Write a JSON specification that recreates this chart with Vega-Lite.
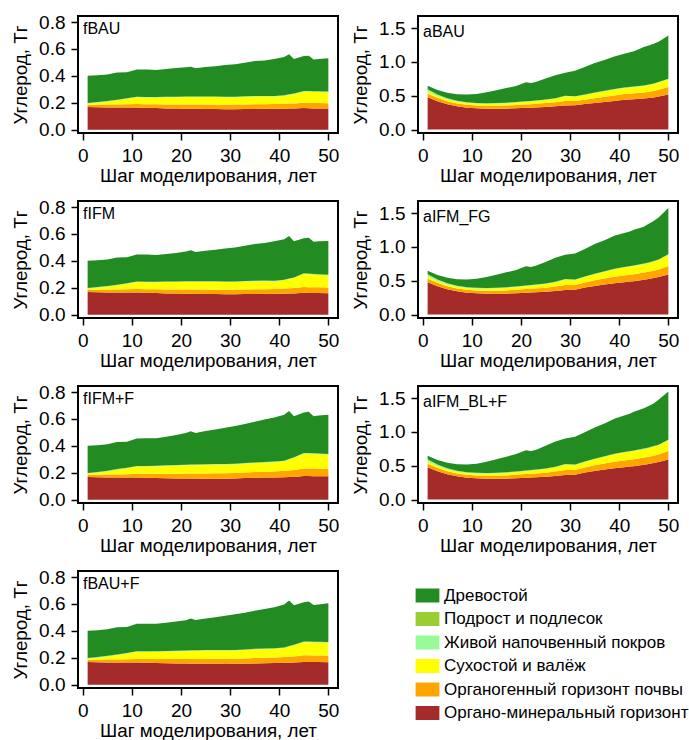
{
"$schema": "https://vega.github.io/schema/vega-lite/v6.json",
"background": "white",
"padding": {"left": 10, "top": 12, "right": 5, "bottom": 5},
"config": {
  "font": "Liberation Sans",
  "view": {"stroke": "black", "strokeWidth": 2},
  "axis": {"domain": false, "grid": false, "tickColor": "black", "tickWidth": 1.5, "tickSize": 7, "labelFontSize": 19, "labelColor": "black", "labelPadding": 6, "labelFlush": false, "labelOverlap": false, "titleFontSize": 18.8, "titleFontWeight": "normal", "titleColor": "black"},
  "axisX": {"titlePadding": 1},
  "axisY": {"titlePadding": 8},
  "title": {"anchor": "start", "frame": "group", "orient": "top", "offset": -24, "dx": 5, "baseline": "top", "fontSize": 16, "fontWeight": "normal", "color": "black"},
  "legend": {"padding": 0}
},
"datasets": {
"layers": [
 {"k":"om","label":"Органо-минеральный горизонт","idx":1},
 {"k":"og","label":"Органогенный горизонт почвы","idx":2},
 {"k":"sv","label":"Сухостой и валёж","idx":3},
 {"k":"zh","label":"Живой напочвенный покров","idx":4},
 {"k":"pd","label":"Подрост и подлесок","idx":5},
 {"k":"dr","label":"Древостой","idx":6}
],
"d": [
{"p":"fBAU","s":1,"om":0.168,"og":0.017,"sv":0.008,"zh":0.003,"pd":0.002,"dr":0.202},
{"p":"fBAU","s":3,"om":0.166,"og":0.019,"sv":0.015,"zh":0.003,"pd":0.002,"dr":0.200},
{"p":"fBAU","s":5,"om":0.165,"og":0.021,"sv":0.022,"zh":0.003,"pd":0.002,"dr":0.197},
{"p":"fBAU","s":7,"om":0.164,"og":0.023,"sv":0.031,"zh":0.003,"pd":0.002,"dr":0.202},
{"p":"fBAU","s":9,"om":0.164,"og":0.024,"sv":0.040,"zh":0.003,"pd":0.002,"dr":0.194},
{"p":"fBAU","s":11,"om":0.164,"og":0.026,"sv":0.050,"zh":0.003,"pd":0.002,"dr":0.202},
{"p":"fBAU","s":13,"om":0.162,"og":0.027,"sv":0.049,"zh":0.003,"pd":0.002,"dr":0.204},
{"p":"fBAU","s":15,"om":0.160,"og":0.028,"sv":0.050,"zh":0.003,"pd":0.002,"dr":0.201},
{"p":"fBAU","s":17,"om":0.158,"og":0.029,"sv":0.053,"zh":0.003,"pd":0.002,"dr":0.205},
{"p":"fBAU","s":19,"om":0.157,"og":0.030,"sv":0.053,"zh":0.003,"pd":0.002,"dr":0.213},
{"p":"fBAU","s":21,"om":0.156,"og":0.031,"sv":0.055,"zh":0.003,"pd":0.002,"dr":0.216},
{"p":"fBAU","s":22,"om":0.155,"og":0.032,"sv":0.055,"zh":0.003,"pd":0.002,"dr":0.221},
{"p":"fBAU","s":23,"om":0.155,"og":0.031,"sv":0.055,"zh":0.003,"pd":0.002,"dr":0.211},
{"p":"fBAU","s":25,"om":0.154,"og":0.032,"sv":0.056,"zh":0.003,"pd":0.002,"dr":0.218},
{"p":"fBAU","s":27,"om":0.153,"og":0.032,"sv":0.057,"zh":0.003,"pd":0.002,"dr":0.225},
{"p":"fBAU","s":29,"om":0.152,"og":0.033,"sv":0.055,"zh":0.003,"pd":0.002,"dr":0.235},
{"p":"fBAU","s":31,"om":0.152,"og":0.034,"sv":0.054,"zh":0.003,"pd":0.002,"dr":0.242},
{"p":"fBAU","s":33,"om":0.153,"og":0.034,"sv":0.056,"zh":0.003,"pd":0.002,"dr":0.250},
{"p":"fBAU","s":35,"om":0.154,"og":0.034,"sv":0.057,"zh":0.003,"pd":0.002,"dr":0.260},
{"p":"fBAU","s":37,"om":0.155,"og":0.034,"sv":0.057,"zh":0.003,"pd":0.002,"dr":0.264},
{"p":"fBAU","s":39,"om":0.155,"og":0.035,"sv":0.055,"zh":0.003,"pd":0.002,"dr":0.275},
{"p":"fBAU","s":41,"om":0.156,"og":0.036,"sv":0.058,"zh":0.003,"pd":0.002,"dr":0.285},
{"p":"fBAU","s":42,"om":0.157,"og":0.037,"sv":0.064,"zh":0.003,"pd":0.002,"dr":0.297},
{"p":"fBAU","s":43,"om":0.157,"og":0.038,"sv":0.068,"zh":0.003,"pd":0.002,"dr":0.257},
{"p":"fBAU","s":45,"om":0.160,"og":0.040,"sv":0.082,"zh":0.003,"pd":0.002,"dr":0.261},
{"p":"fBAU","s":46,"om":0.159,"og":0.040,"sv":0.083,"zh":0.003,"pd":0.002,"dr":0.263},
{"p":"fBAU","s":47,"om":0.158,"og":0.040,"sv":0.082,"zh":0.003,"pd":0.002,"dr":0.237},
{"p":"fBAU","s":48,"om":0.158,"og":0.040,"sv":0.082,"zh":0.003,"pd":0.002,"dr":0.241},
{"p":"fBAU","s":50,"om":0.157,"og":0.040,"sv":0.081,"zh":0.003,"pd":0.002,"dr":0.247},

{"p":"fIFM","s":1,"om":0.168,"og":0.017,"sv":0.008,"zh":0.003,"pd":0.002,"dr":0.202},
{"p":"fIFM","s":3,"om":0.166,"og":0.019,"sv":0.015,"zh":0.003,"pd":0.002,"dr":0.200},
{"p":"fIFM","s":5,"om":0.165,"og":0.021,"sv":0.022,"zh":0.003,"pd":0.002,"dr":0.197},
{"p":"fIFM","s":7,"om":0.164,"og":0.023,"sv":0.031,"zh":0.003,"pd":0.002,"dr":0.202},
{"p":"fIFM","s":9,"om":0.164,"og":0.024,"sv":0.040,"zh":0.003,"pd":0.002,"dr":0.194},
{"p":"fIFM","s":11,"om":0.164,"og":0.026,"sv":0.052,"zh":0.003,"pd":0.002,"dr":0.200},
{"p":"fIFM","s":13,"om":0.162,"og":0.027,"sv":0.051,"zh":0.003,"pd":0.002,"dr":0.202},
{"p":"fIFM","s":15,"om":0.160,"og":0.028,"sv":0.052,"zh":0.003,"pd":0.002,"dr":0.199},
{"p":"fIFM","s":17,"om":0.158,"og":0.029,"sv":0.055,"zh":0.003,"pd":0.002,"dr":0.203},
{"p":"fIFM","s":19,"om":0.157,"og":0.030,"sv":0.055,"zh":0.003,"pd":0.002,"dr":0.211},
{"p":"fIFM","s":21,"om":0.156,"og":0.031,"sv":0.057,"zh":0.003,"pd":0.002,"dr":0.221},
{"p":"fIFM","s":22,"om":0.155,"og":0.032,"sv":0.057,"zh":0.003,"pd":0.002,"dr":0.229},
{"p":"fIFM","s":23,"om":0.155,"og":0.031,"sv":0.057,"zh":0.003,"pd":0.002,"dr":0.218},
{"p":"fIFM","s":25,"om":0.154,"og":0.032,"sv":0.058,"zh":0.003,"pd":0.002,"dr":0.226},
{"p":"fIFM","s":27,"om":0.153,"og":0.032,"sv":0.059,"zh":0.003,"pd":0.002,"dr":0.234},
{"p":"fIFM","s":29,"om":0.152,"og":0.033,"sv":0.057,"zh":0.003,"pd":0.002,"dr":0.245},
{"p":"fIFM","s":31,"om":0.152,"og":0.034,"sv":0.056,"zh":0.003,"pd":0.002,"dr":0.253},
{"p":"fIFM","s":33,"om":0.153,"og":0.034,"sv":0.058,"zh":0.003,"pd":0.002,"dr":0.262},
{"p":"fIFM","s":35,"om":0.154,"og":0.034,"sv":0.059,"zh":0.003,"pd":0.002,"dr":0.273},
{"p":"fIFM","s":37,"om":0.155,"og":0.034,"sv":0.059,"zh":0.003,"pd":0.002,"dr":0.280},
{"p":"fIFM","s":39,"om":0.155,"og":0.035,"sv":0.057,"zh":0.003,"pd":0.002,"dr":0.293},
{"p":"fIFM","s":41,"om":0.156,"og":0.038,"sv":0.061,"zh":0.003,"pd":0.002,"dr":0.300},
{"p":"fIFM","s":42,"om":0.157,"og":0.039,"sv":0.067,"zh":0.003,"pd":0.002,"dr":0.317},
{"p":"fIFM","s":43,"om":0.157,"og":0.041,"sv":0.074,"zh":0.003,"pd":0.002,"dr":0.268},
{"p":"fIFM","s":45,"om":0.162,"og":0.043,"sv":0.097,"zh":0.003,"pd":0.002,"dr":0.261},
{"p":"fIFM","s":46,"om":0.161,"og":0.043,"sv":0.096,"zh":0.003,"pd":0.002,"dr":0.267},
{"p":"fIFM","s":47,"om":0.160,"og":0.043,"sv":0.094,"zh":0.003,"pd":0.002,"dr":0.240},
{"p":"fIFM","s":48,"om":0.160,"og":0.043,"sv":0.092,"zh":0.003,"pd":0.002,"dr":0.245},
{"p":"fIFM","s":50,"om":0.159,"og":0.043,"sv":0.090,"zh":0.003,"pd":0.002,"dr":0.251},

{"p":"fIFM+F","s":1,"om":0.168,"og":0.017,"sv":0.008,"zh":0.003,"pd":0.002,"dr":0.202},
{"p":"fIFM+F","s":3,"om":0.166,"og":0.019,"sv":0.015,"zh":0.003,"pd":0.002,"dr":0.200},
{"p":"fIFM+F","s":5,"om":0.165,"og":0.021,"sv":0.024,"zh":0.003,"pd":0.002,"dr":0.197},
{"p":"fIFM+F","s":7,"om":0.164,"og":0.023,"sv":0.035,"zh":0.003,"pd":0.002,"dr":0.201},
{"p":"fIFM+F","s":9,"om":0.164,"og":0.025,"sv":0.043,"zh":0.003,"pd":0.002,"dr":0.193},
{"p":"fIFM+F","s":11,"om":0.164,"og":0.028,"sv":0.054,"zh":0.003,"pd":0.002,"dr":0.204},
{"p":"fIFM+F","s":13,"om":0.162,"og":0.030,"sv":0.054,"zh":0.003,"pd":0.002,"dr":0.206},
{"p":"fIFM+F","s":15,"om":0.160,"og":0.032,"sv":0.055,"zh":0.003,"pd":0.002,"dr":0.205},
{"p":"fIFM+F","s":17,"om":0.159,"og":0.033,"sv":0.058,"zh":0.003,"pd":0.002,"dr":0.212},
{"p":"fIFM+F","s":19,"om":0.158,"og":0.035,"sv":0.059,"zh":0.003,"pd":0.002,"dr":0.223},
{"p":"fIFM+F","s":21,"om":0.158,"og":0.036,"sv":0.061,"zh":0.003,"pd":0.002,"dr":0.235},
{"p":"fIFM+F","s":22,"om":0.157,"og":0.037,"sv":0.062,"zh":0.003,"pd":0.002,"dr":0.247},
{"p":"fIFM+F","s":23,"om":0.157,"og":0.037,"sv":0.062,"zh":0.003,"pd":0.002,"dr":0.235},
{"p":"fIFM+F","s":25,"om":0.156,"og":0.039,"sv":0.063,"zh":0.003,"pd":0.002,"dr":0.247},
{"p":"fIFM+F","s":27,"om":0.156,"og":0.040,"sv":0.064,"zh":0.003,"pd":0.002,"dr":0.257},
{"p":"fIFM+F","s":29,"om":0.156,"og":0.041,"sv":0.063,"zh":0.003,"pd":0.002,"dr":0.270},
{"p":"fIFM+F","s":31,"om":0.157,"og":0.042,"sv":0.063,"zh":0.003,"pd":0.002,"dr":0.281},
{"p":"fIFM+F","s":33,"om":0.160,"og":0.042,"sv":0.065,"zh":0.003,"pd":0.002,"dr":0.290},
{"p":"fIFM+F","s":35,"om":0.162,"og":0.043,"sv":0.067,"zh":0.003,"pd":0.002,"dr":0.303},
{"p":"fIFM+F","s":37,"om":0.164,"og":0.044,"sv":0.067,"zh":0.003,"pd":0.002,"dr":0.315},
{"p":"fIFM+F","s":39,"om":0.165,"og":0.045,"sv":0.068,"zh":0.003,"pd":0.002,"dr":0.327},
{"p":"fIFM+F","s":41,"om":0.167,"og":0.047,"sv":0.071,"zh":0.003,"pd":0.002,"dr":0.342},
{"p":"fIFM+F","s":42,"om":0.168,"og":0.049,"sv":0.081,"zh":0.003,"pd":0.002,"dr":0.357},
{"p":"fIFM+F","s":43,"om":0.169,"og":0.051,"sv":0.090,"zh":0.003,"pd":0.002,"dr":0.305},
{"p":"fIFM+F","s":45,"om":0.175,"og":0.057,"sv":0.110,"zh":0.003,"pd":0.002,"dr":0.301},
{"p":"fIFM+F","s":46,"om":0.175,"og":0.057,"sv":0.110,"zh":0.003,"pd":0.002,"dr":0.306},
{"p":"fIFM+F","s":47,"om":0.174,"og":0.057,"sv":0.109,"zh":0.003,"pd":0.002,"dr":0.275},
{"p":"fIFM+F","s":48,"om":0.174,"og":0.056,"sv":0.108,"zh":0.003,"pd":0.002,"dr":0.282},
{"p":"fIFM+F","s":50,"om":0.173,"og":0.055,"sv":0.107,"zh":0.003,"pd":0.002,"dr":0.292},

{"p":"fBAU+F","s":1,"om":0.168,"og":0.017,"sv":0.008,"zh":0.003,"pd":0.002,"dr":0.202},
{"p":"fBAU+F","s":3,"om":0.166,"og":0.019,"sv":0.015,"zh":0.003,"pd":0.002,"dr":0.200},
{"p":"fBAU+F","s":5,"om":0.165,"og":0.021,"sv":0.023,"zh":0.003,"pd":0.002,"dr":0.197},
{"p":"fBAU+F","s":7,"om":0.164,"og":0.023,"sv":0.033,"zh":0.003,"pd":0.002,"dr":0.202},
{"p":"fBAU+F","s":9,"om":0.164,"og":0.024,"sv":0.042,"zh":0.003,"pd":0.002,"dr":0.194},
{"p":"fBAU+F","s":11,"om":0.164,"og":0.027,"sv":0.053,"zh":0.003,"pd":0.002,"dr":0.203},
{"p":"fBAU+F","s":13,"om":0.162,"og":0.028,"sv":0.053,"zh":0.003,"pd":0.002,"dr":0.205},
{"p":"fBAU+F","s":15,"om":0.160,"og":0.030,"sv":0.054,"zh":0.003,"pd":0.002,"dr":0.203},
{"p":"fBAU+F","s":17,"om":0.159,"og":0.031,"sv":0.056,"zh":0.003,"pd":0.002,"dr":0.209},
{"p":"fBAU+F","s":19,"om":0.158,"og":0.032,"sv":0.057,"zh":0.003,"pd":0.002,"dr":0.218},
{"p":"fBAU+F","s":21,"om":0.157,"og":0.034,"sv":0.058,"zh":0.003,"pd":0.002,"dr":0.224},
{"p":"fBAU+F","s":22,"om":0.156,"og":0.035,"sv":0.059,"zh":0.003,"pd":0.002,"dr":0.237},
{"p":"fBAU+F","s":23,"om":0.156,"og":0.035,"sv":0.059,"zh":0.003,"pd":0.002,"dr":0.225},
{"p":"fBAU+F","s":25,"om":0.155,"og":0.036,"sv":0.061,"zh":0.003,"pd":0.002,"dr":0.235},
{"p":"fBAU+F","s":27,"om":0.155,"og":0.037,"sv":0.061,"zh":0.003,"pd":0.002,"dr":0.244},
{"p":"fBAU+F","s":29,"om":0.154,"og":0.038,"sv":0.060,"zh":0.003,"pd":0.002,"dr":0.256},
{"p":"fBAU+F","s":31,"om":0.155,"og":0.038,"sv":0.060,"zh":0.003,"pd":0.002,"dr":0.265},
{"p":"fBAU+F","s":33,"om":0.156,"og":0.039,"sv":0.062,"zh":0.003,"pd":0.002,"dr":0.273},
{"p":"fBAU+F","s":35,"om":0.158,"og":0.040,"sv":0.063,"zh":0.003,"pd":0.002,"dr":0.284},
{"p":"fBAU+F","s":37,"om":0.159,"og":0.041,"sv":0.063,"zh":0.003,"pd":0.002,"dr":0.295},
{"p":"fBAU+F","s":39,"om":0.160,"og":0.042,"sv":0.063,"zh":0.003,"pd":0.002,"dr":0.305},
{"p":"fBAU+F","s":41,"om":0.162,"og":0.043,"sv":0.067,"zh":0.003,"pd":0.002,"dr":0.318},
{"p":"fBAU+F","s":42,"om":0.163,"og":0.044,"sv":0.075,"zh":0.003,"pd":0.002,"dr":0.338},
{"p":"fBAU+F","s":43,"om":0.164,"og":0.045,"sv":0.083,"zh":0.003,"pd":0.002,"dr":0.293},
{"p":"fBAU+F","s":45,"om":0.169,"og":0.049,"sv":0.097,"zh":0.003,"pd":0.002,"dr":0.292},
{"p":"fBAU+F","s":46,"om":0.169,"og":0.049,"sv":0.097,"zh":0.003,"pd":0.002,"dr":0.298},
{"p":"fBAU+F","s":47,"om":0.168,"og":0.049,"sv":0.097,"zh":0.003,"pd":0.002,"dr":0.273},
{"p":"fBAU+F","s":48,"om":0.168,"og":0.049,"sv":0.096,"zh":0.003,"pd":0.002,"dr":0.278},
{"p":"fBAU+F","s":50,"om":0.167,"og":0.049,"sv":0.096,"zh":0.003,"pd":0.002,"dr":0.288},

{"p":"aBAU","s":1,"om":0.480,"og":0.050,"sv":0.035,"zh":0.030,"pd":0.003,"dr":0.052},
{"p":"aBAU","s":3,"om":0.420,"og":0.050,"sv":0.025,"zh":0.022,"pd":0.003,"dr":0.065},
{"p":"aBAU","s":5,"om":0.375,"og":0.045,"sv":0.025,"zh":0.016,"pd":0.003,"dr":0.081},
{"p":"aBAU","s":7,"om":0.345,"og":0.043,"sv":0.024,"zh":0.012,"pd":0.003,"dr":0.096},
{"p":"aBAU","s":9,"om":0.325,"og":0.043,"sv":0.024,"zh":0.010,"pd":0.003,"dr":0.115},
{"p":"aBAU","s":11,"om":0.315,"og":0.042,"sv":0.025,"zh":0.009,"pd":0.003,"dr":0.134},
{"p":"aBAU","s":13,"om":0.310,"og":0.042,"sv":0.028,"zh":0.008,"pd":0.003,"dr":0.161},
{"p":"aBAU","s":15,"om":0.308,"og":0.044,"sv":0.030,"zh":0.008,"pd":0.003,"dr":0.190},
{"p":"aBAU","s":17,"om":0.310,"og":0.046,"sv":0.032,"zh":0.008,"pd":0.003,"dr":0.216},
{"p":"aBAU","s":19,"om":0.315,"og":0.048,"sv":0.035,"zh":0.008,"pd":0.003,"dr":0.236},
{"p":"aBAU","s":21,"om":0.322,"og":0.050,"sv":0.038,"zh":0.007,"pd":0.003,"dr":0.280},
{"p":"aBAU","s":22,"om":0.325,"og":0.051,"sv":0.039,"zh":0.007,"pd":0.003,"dr":0.265},
{"p":"aBAU","s":23,"om":0.328,"og":0.053,"sv":0.041,"zh":0.007,"pd":0.003,"dr":0.273},
{"p":"aBAU","s":25,"om":0.335,"og":0.057,"sv":0.045,"zh":0.007,"pd":0.003,"dr":0.308},
{"p":"aBAU","s":27,"om":0.345,"og":0.060,"sv":0.050,"zh":0.007,"pd":0.003,"dr":0.340},
{"p":"aBAU","s":29,"om":0.358,"og":0.067,"sv":0.067,"zh":0.007,"pd":0.003,"dr":0.338},
{"p":"aBAU","s":31,"om":0.362,"og":0.063,"sv":0.060,"zh":0.007,"pd":0.003,"dr":0.375},
{"p":"aBAU","s":33,"om":0.378,"og":0.064,"sv":0.068,"zh":0.007,"pd":0.003,"dr":0.405},
{"p":"aBAU","s":35,"om":0.395,"og":0.070,"sv":0.075,"zh":0.006,"pd":0.003,"dr":0.436},
{"p":"aBAU","s":37,"om":0.410,"og":0.075,"sv":0.080,"zh":0.006,"pd":0.003,"dr":0.456},
{"p":"aBAU","s":39,"om":0.425,"og":0.080,"sv":0.085,"zh":0.006,"pd":0.003,"dr":0.481},
{"p":"aBAU","s":41,"om":0.440,"og":0.085,"sv":0.087,"zh":0.006,"pd":0.003,"dr":0.499},
{"p":"aBAU","s":42,"om":0.445,"og":0.087,"sv":0.088,"zh":0.006,"pd":0.003,"dr":0.511},
{"p":"aBAU","s":43,"om":0.450,"og":0.088,"sv":0.089,"zh":0.006,"pd":0.003,"dr":0.524},
{"p":"aBAU","s":45,"om":0.460,"og":0.090,"sv":0.095,"zh":0.006,"pd":0.003,"dr":0.566},
{"p":"aBAU","s":46,"om":0.468,"og":0.092,"sv":0.097,"zh":0.006,"pd":0.003,"dr":0.579},
{"p":"aBAU","s":47,"om":0.475,"og":0.097,"sv":0.100,"zh":0.006,"pd":0.003,"dr":0.589},
{"p":"aBAU","s":48,"om":0.490,"og":0.100,"sv":0.105,"zh":0.006,"pd":0.003,"dr":0.596},
{"p":"aBAU","s":50,"om":0.520,"og":0.110,"sv":0.115,"zh":0.006,"pd":0.003,"dr":0.636},

{"p":"aIFM_FG","s":1,"om":0.480,"og":0.050,"sv":0.035,"zh":0.030,"pd":0.003,"dr":0.052},
{"p":"aIFM_FG","s":3,"om":0.420,"og":0.050,"sv":0.025,"zh":0.022,"pd":0.003,"dr":0.065},
{"p":"aIFM_FG","s":5,"om":0.375,"og":0.045,"sv":0.025,"zh":0.016,"pd":0.003,"dr":0.081},
{"p":"aIFM_FG","s":7,"om":0.345,"og":0.043,"sv":0.024,"zh":0.012,"pd":0.003,"dr":0.096},
{"p":"aIFM_FG","s":9,"om":0.325,"og":0.043,"sv":0.025,"zh":0.010,"pd":0.003,"dr":0.114},
{"p":"aIFM_FG","s":11,"om":0.315,"og":0.042,"sv":0.027,"zh":0.009,"pd":0.003,"dr":0.134},
{"p":"aIFM_FG","s":13,"om":0.310,"og":0.043,"sv":0.030,"zh":0.008,"pd":0.003,"dr":0.161},
{"p":"aIFM_FG","s":15,"om":0.308,"og":0.045,"sv":0.033,"zh":0.008,"pd":0.003,"dr":0.193},
{"p":"aIFM_FG","s":17,"om":0.310,"og":0.047,"sv":0.037,"zh":0.008,"pd":0.003,"dr":0.220},
{"p":"aIFM_FG","s":19,"om":0.316,"og":0.050,"sv":0.040,"zh":0.008,"pd":0.003,"dr":0.243},
{"p":"aIFM_FG","s":21,"om":0.324,"og":0.053,"sv":0.044,"zh":0.007,"pd":0.003,"dr":0.284},
{"p":"aIFM_FG","s":22,"om":0.327,"og":0.054,"sv":0.046,"zh":0.007,"pd":0.003,"dr":0.268},
{"p":"aIFM_FG","s":23,"om":0.330,"og":0.056,"sv":0.048,"zh":0.007,"pd":0.003,"dr":0.278},
{"p":"aIFM_FG","s":25,"om":0.338,"og":0.060,"sv":0.053,"zh":0.007,"pd":0.003,"dr":0.317},
{"p":"aIFM_FG","s":27,"om":0.350,"og":0.065,"sv":0.060,"zh":0.007,"pd":0.003,"dr":0.355},
{"p":"aIFM_FG","s":29,"om":0.365,"og":0.072,"sv":0.078,"zh":0.007,"pd":0.003,"dr":0.360},
{"p":"aIFM_FG","s":31,"om":0.368,"og":0.070,"sv":0.070,"zh":0.007,"pd":0.003,"dr":0.387},
{"p":"aIFM_FG","s":33,"om":0.400,"og":0.075,"sv":0.080,"zh":0.007,"pd":0.003,"dr":0.405},
{"p":"aIFM_FG","s":35,"om":0.425,"og":0.082,"sv":0.090,"zh":0.006,"pd":0.003,"dr":0.439},
{"p":"aIFM_FG","s":37,"om":0.445,"og":0.088,"sv":0.098,"zh":0.006,"pd":0.003,"dr":0.460},
{"p":"aIFM_FG","s":39,"om":0.465,"og":0.094,"sv":0.110,"zh":0.006,"pd":0.003,"dr":0.487},
{"p":"aIFM_FG","s":41,"om":0.480,"og":0.098,"sv":0.118,"zh":0.006,"pd":0.003,"dr":0.500},
{"p":"aIFM_FG","s":42,"om":0.488,"og":0.100,"sv":0.120,"zh":0.006,"pd":0.003,"dr":0.508},
{"p":"aIFM_FG","s":43,"om":0.495,"og":0.102,"sv":0.122,"zh":0.006,"pd":0.003,"dr":0.527},
{"p":"aIFM_FG","s":45,"om":0.515,"og":0.106,"sv":0.125,"zh":0.006,"pd":0.003,"dr":0.545},
{"p":"aIFM_FG","s":46,"om":0.525,"og":0.108,"sv":0.128,"zh":0.006,"pd":0.003,"dr":0.575},
{"p":"aIFM_FG","s":47,"om":0.540,"og":0.110,"sv":0.132,"zh":0.006,"pd":0.003,"dr":0.594},
{"p":"aIFM_FG","s":48,"om":0.555,"og":0.113,"sv":0.138,"zh":0.006,"pd":0.003,"dr":0.620},
{"p":"aIFM_FG","s":50,"om":0.595,"og":0.125,"sv":0.165,"zh":0.006,"pd":0.003,"dr":0.681},

{"p":"aIFM_BL+F","s":1,"om":0.480,"og":0.050,"sv":0.035,"zh":0.030,"pd":0.003,"dr":0.052},
{"p":"aIFM_BL+F","s":3,"om":0.420,"og":0.050,"sv":0.025,"zh":0.022,"pd":0.003,"dr":0.065},
{"p":"aIFM_BL+F","s":5,"om":0.375,"og":0.045,"sv":0.025,"zh":0.016,"pd":0.003,"dr":0.081},
{"p":"aIFM_BL+F","s":7,"om":0.345,"og":0.043,"sv":0.024,"zh":0.012,"pd":0.003,"dr":0.096},
{"p":"aIFM_BL+F","s":9,"om":0.325,"og":0.043,"sv":0.025,"zh":0.010,"pd":0.003,"dr":0.114},
{"p":"aIFM_BL+F","s":11,"om":0.315,"og":0.042,"sv":0.027,"zh":0.009,"pd":0.003,"dr":0.134},
{"p":"aIFM_BL+F","s":13,"om":0.310,"og":0.043,"sv":0.030,"zh":0.008,"pd":0.003,"dr":0.166},
{"p":"aIFM_BL+F","s":15,"om":0.308,"og":0.045,"sv":0.033,"zh":0.008,"pd":0.003,"dr":0.200},
{"p":"aIFM_BL+F","s":17,"om":0.310,"og":0.047,"sv":0.037,"zh":0.008,"pd":0.003,"dr":0.230},
{"p":"aIFM_BL+F","s":19,"om":0.316,"og":0.050,"sv":0.040,"zh":0.008,"pd":0.003,"dr":0.258},
{"p":"aIFM_BL+F","s":21,"om":0.324,"og":0.053,"sv":0.044,"zh":0.007,"pd":0.003,"dr":0.299},
{"p":"aIFM_BL+F","s":22,"om":0.327,"og":0.054,"sv":0.046,"zh":0.007,"pd":0.003,"dr":0.283},
{"p":"aIFM_BL+F","s":23,"om":0.330,"og":0.056,"sv":0.048,"zh":0.007,"pd":0.003,"dr":0.291},
{"p":"aIFM_BL+F","s":25,"om":0.338,"og":0.060,"sv":0.053,"zh":0.007,"pd":0.003,"dr":0.334},
{"p":"aIFM_BL+F","s":27,"om":0.350,"og":0.065,"sv":0.060,"zh":0.007,"pd":0.003,"dr":0.375},
{"p":"aIFM_BL+F","s":29,"om":0.365,"og":0.072,"sv":0.078,"zh":0.007,"pd":0.003,"dr":0.380},
{"p":"aIFM_BL+F","s":31,"om":0.368,"og":0.070,"sv":0.070,"zh":0.007,"pd":0.003,"dr":0.412},
{"p":"aIFM_BL+F","s":33,"om":0.400,"og":0.075,"sv":0.080,"zh":0.007,"pd":0.003,"dr":0.430},
{"p":"aIFM_BL+F","s":35,"om":0.425,"og":0.082,"sv":0.090,"zh":0.006,"pd":0.003,"dr":0.459},
{"p":"aIFM_BL+F","s":37,"om":0.445,"og":0.088,"sv":0.098,"zh":0.006,"pd":0.003,"dr":0.485},
{"p":"aIFM_BL+F","s":39,"om":0.465,"og":0.094,"sv":0.110,"zh":0.006,"pd":0.003,"dr":0.517},
{"p":"aIFM_BL+F","s":41,"om":0.480,"og":0.098,"sv":0.118,"zh":0.006,"pd":0.003,"dr":0.540},
{"p":"aIFM_BL+F","s":42,"om":0.488,"og":0.100,"sv":0.120,"zh":0.006,"pd":0.003,"dr":0.548},
{"p":"aIFM_BL+F","s":43,"om":0.495,"og":0.102,"sv":0.122,"zh":0.006,"pd":0.003,"dr":0.572},
{"p":"aIFM_BL+F","s":45,"om":0.515,"og":0.106,"sv":0.125,"zh":0.006,"pd":0.003,"dr":0.595},
{"p":"aIFM_BL+F","s":46,"om":0.525,"og":0.108,"sv":0.128,"zh":0.006,"pd":0.003,"dr":0.615},
{"p":"aIFM_BL+F","s":47,"om":0.540,"og":0.110,"sv":0.132,"zh":0.006,"pd":0.003,"dr":0.629},
{"p":"aIFM_BL+F","s":48,"om":0.555,"og":0.113,"sv":0.135,"zh":0.006,"pd":0.003,"dr":0.663},
{"p":"aIFM_BL+F","s":50,"om":0.595,"og":0.125,"sv":0.158,"zh":0.006,"pd":0.003,"dr":0.713}
]
},
"data": {"name": "d"},
"columns": 2,
"spacing": {"row": 11, "column": 10},
"concat": [
 {"title": {"text": "fBAU"}, "width": 260, "height": 117,
  "transform": [{"filter": "datum.p === 'fBAU'"}, {"fold": ["om","og","sv","zh","pd","dr"], "as": ["k","v"]}, {"lookup": "k", "from": {"data": {"name": "layers"}, "key": "k", "fields": ["label","idx"]}}],
  "mark": {"type": "area", "interpolate": "linear"},
  "encoding": {
   "x": {"field": "s", "type": "quantitative", "scale": {"domain": [-0.96, 51.96], "nice": false, "zero": false}, "axis": {"values": [0,10,20,30,40,50], "format": "d", "title": "Шаг моделирования, лет"}},
   "y": {"field": "v", "type": "quantitative", "stack": "zero", "scale": {"domain": [-0.025, 0.845], "nice": false, "zero": false}, "axis": {"values": [0,0.2,0.4,0.6,0.8], "format": ".1f", "title": "Углерод, Тг"}},
   "color": {"field": "label", "type": "nominal", "scale": {"domain": ["Древостой","Подрост и подлесок","Живой напочвенный покров","Сухостой и валёж","Органогенный горизонт почвы","Органо-минеральный горизонт"], "range": ["#228B22","#9ACD32","#98FB98","#FFFF00","#FFA500","#A52A2A"]}, "legend": {"orient": "none", "legendX": 341, "legendY": 571, "title": null, "symbolType": "M-1.7,-1H1.7V1H-1.7Z", "symbolSize": 196, "symbolStrokeWidth": 0, "symbolOpacity": 1, "labelFontSize": 17, "labelOffset": 8, "rowPadding": 5.5, "labelColor": "black", "labelLimit": 400}},
   "order": {"field": "idx", "type": "quantitative"}
  }},
 {"title": {"text": "aBAU"}, "width": 260, "height": 117,
  "transform": [{"filter": "datum.p === 'aBAU'"}, {"fold": ["om","og","sv","zh","pd","dr"], "as": ["k","v"]}, {"lookup": "k", "from": {"data": {"name": "layers"}, "key": "k", "fields": ["label","idx"]}}],
  "mark": {"type": "area", "interpolate": "linear"},
  "encoding": {
   "x": {"field": "s", "type": "quantitative", "scale": {"domain": [-0.96, 51.96], "nice": false, "zero": false}, "axis": {"values": [0,10,20,30,40,50], "format": "d", "title": "Шаг моделирования, лет"}},
   "y": {"field": "v", "type": "quantitative", "stack": "zero", "scale": {"domain": [-0.05, 1.68], "nice": false, "zero": false}, "axis": {"values": [0,0.5,1,1.5], "format": ".1f", "title": "Углерод, Тг"}},
   "color": {"field": "label", "type": "nominal", "scale": {"domain": ["Древостой","Подрост и подлесок","Живой напочвенный покров","Сухостой и валёж","Органогенный горизонт почвы","Органо-минеральный горизонт"], "range": ["#228B22","#9ACD32","#98FB98","#FFFF00","#FFA500","#A52A2A"]}, "legend": {"orient": "none", "legendX": 341, "legendY": 571, "title": null, "symbolType": "M-1.7,-1H1.7V1H-1.7Z", "symbolSize": 196, "symbolStrokeWidth": 0, "symbolOpacity": 1, "labelFontSize": 17, "labelOffset": 8, "rowPadding": 5.5, "labelColor": "black", "labelLimit": 400}},
   "order": {"field": "idx", "type": "quantitative"}
  }},
 {"title": {"text": "fIFM"}, "width": 260, "height": 117,
  "transform": [{"filter": "datum.p === 'fIFM'"}, {"fold": ["om","og","sv","zh","pd","dr"], "as": ["k","v"]}, {"lookup": "k", "from": {"data": {"name": "layers"}, "key": "k", "fields": ["label","idx"]}}],
  "mark": {"type": "area", "interpolate": "linear"},
  "encoding": {
   "x": {"field": "s", "type": "quantitative", "scale": {"domain": [-0.96, 51.96], "nice": false, "zero": false}, "axis": {"values": [0,10,20,30,40,50], "format": "d", "title": "Шаг моделирования, лет"}},
   "y": {"field": "v", "type": "quantitative", "stack": "zero", "scale": {"domain": [-0.025, 0.845], "nice": false, "zero": false}, "axis": {"values": [0,0.2,0.4,0.6,0.8], "format": ".1f", "title": "Углерод, Тг"}},
   "color": {"field": "label", "type": "nominal", "scale": {"domain": ["Древостой","Подрост и подлесок","Живой напочвенный покров","Сухостой и валёж","Органогенный горизонт почвы","Органо-минеральный горизонт"], "range": ["#228B22","#9ACD32","#98FB98","#FFFF00","#FFA500","#A52A2A"]}, "legend": {"orient": "none", "legendX": 341, "legendY": 571, "title": null, "symbolType": "M-1.7,-1H1.7V1H-1.7Z", "symbolSize": 196, "symbolStrokeWidth": 0, "symbolOpacity": 1, "labelFontSize": 17, "labelOffset": 8, "rowPadding": 5.5, "labelColor": "black", "labelLimit": 400}},
   "order": {"field": "idx", "type": "quantitative"}
  }},
 {"title": {"text": "aIFM_FG"}, "width": 260, "height": 117,
  "transform": [{"filter": "datum.p === 'aIFM_FG'"}, {"fold": ["om","og","sv","zh","pd","dr"], "as": ["k","v"]}, {"lookup": "k", "from": {"data": {"name": "layers"}, "key": "k", "fields": ["label","idx"]}}],
  "mark": {"type": "area", "interpolate": "linear"},
  "encoding": {
   "x": {"field": "s", "type": "quantitative", "scale": {"domain": [-0.96, 51.96], "nice": false, "zero": false}, "axis": {"values": [0,10,20,30,40,50], "format": "d", "title": "Шаг моделирования, лет"}},
   "y": {"field": "v", "type": "quantitative", "stack": "zero", "scale": {"domain": [-0.05, 1.68], "nice": false, "zero": false}, "axis": {"values": [0,0.5,1,1.5], "format": ".1f", "title": "Углерод, Тг"}},
   "color": {"field": "label", "type": "nominal", "scale": {"domain": ["Древостой","Подрост и подлесок","Живой напочвенный покров","Сухостой и валёж","Органогенный горизонт почвы","Органо-минеральный горизонт"], "range": ["#228B22","#9ACD32","#98FB98","#FFFF00","#FFA500","#A52A2A"]}, "legend": {"orient": "none", "legendX": 341, "legendY": 571, "title": null, "symbolType": "M-1.7,-1H1.7V1H-1.7Z", "symbolSize": 196, "symbolStrokeWidth": 0, "symbolOpacity": 1, "labelFontSize": 17, "labelOffset": 8, "rowPadding": 5.5, "labelColor": "black", "labelLimit": 400}},
   "order": {"field": "idx", "type": "quantitative"}
  }},
 {"title": {"text": "fIFM+F"}, "width": 260, "height": 117,
  "transform": [{"filter": "datum.p === 'fIFM+F'"}, {"fold": ["om","og","sv","zh","pd","dr"], "as": ["k","v"]}, {"lookup": "k", "from": {"data": {"name": "layers"}, "key": "k", "fields": ["label","idx"]}}],
  "mark": {"type": "area", "interpolate": "linear"},
  "encoding": {
   "x": {"field": "s", "type": "quantitative", "scale": {"domain": [-0.96, 51.96], "nice": false, "zero": false}, "axis": {"values": [0,10,20,30,40,50], "format": "d", "title": "Шаг моделирования, лет"}},
   "y": {"field": "v", "type": "quantitative", "stack": "zero", "scale": {"domain": [-0.025, 0.845], "nice": false, "zero": false}, "axis": {"values": [0,0.2,0.4,0.6,0.8], "format": ".1f", "title": "Углерод, Тг"}},
   "color": {"field": "label", "type": "nominal", "scale": {"domain": ["Древостой","Подрост и подлесок","Живой напочвенный покров","Сухостой и валёж","Органогенный горизонт почвы","Органо-минеральный горизонт"], "range": ["#228B22","#9ACD32","#98FB98","#FFFF00","#FFA500","#A52A2A"]}, "legend": {"orient": "none", "legendX": 341, "legendY": 571, "title": null, "symbolType": "M-1.7,-1H1.7V1H-1.7Z", "symbolSize": 196, "symbolStrokeWidth": 0, "symbolOpacity": 1, "labelFontSize": 17, "labelOffset": 8, "rowPadding": 5.5, "labelColor": "black", "labelLimit": 400}},
   "order": {"field": "idx", "type": "quantitative"}
  }},
 {"title": {"text": "aIFM_BL+F"}, "width": 260, "height": 117,
  "transform": [{"filter": "datum.p === 'aIFM_BL+F'"}, {"fold": ["om","og","sv","zh","pd","dr"], "as": ["k","v"]}, {"lookup": "k", "from": {"data": {"name": "layers"}, "key": "k", "fields": ["label","idx"]}}],
  "mark": {"type": "area", "interpolate": "linear"},
  "encoding": {
   "x": {"field": "s", "type": "quantitative", "scale": {"domain": [-0.96, 51.96], "nice": false, "zero": false}, "axis": {"values": [0,10,20,30,40,50], "format": "d", "title": "Шаг моделирования, лет"}},
   "y": {"field": "v", "type": "quantitative", "stack": "zero", "scale": {"domain": [-0.05, 1.68], "nice": false, "zero": false}, "axis": {"values": [0,0.5,1,1.5], "format": ".1f", "title": "Углерод, Тг"}},
   "color": {"field": "label", "type": "nominal", "scale": {"domain": ["Древостой","Подрост и подлесок","Живой напочвенный покров","Сухостой и валёж","Органогенный горизонт почвы","Органо-минеральный горизонт"], "range": ["#228B22","#9ACD32","#98FB98","#FFFF00","#FFA500","#A52A2A"]}, "legend": {"orient": "none", "legendX": 341, "legendY": 571, "title": null, "symbolType": "M-1.7,-1H1.7V1H-1.7Z", "symbolSize": 196, "symbolStrokeWidth": 0, "symbolOpacity": 1, "labelFontSize": 17, "labelOffset": 8, "rowPadding": 5.5, "labelColor": "black", "labelLimit": 400}},
   "order": {"field": "idx", "type": "quantitative"}
  }},
 {"title": {"text": "fBAU+F"}, "width": 260, "height": 117,
  "transform": [{"filter": "datum.p === 'fBAU+F'"}, {"fold": ["om","og","sv","zh","pd","dr"], "as": ["k","v"]}, {"lookup": "k", "from": {"data": {"name": "layers"}, "key": "k", "fields": ["label","idx"]}}],
  "mark": {"type": "area", "interpolate": "linear"},
  "encoding": {
   "x": {"field": "s", "type": "quantitative", "scale": {"domain": [-0.96, 51.96], "nice": false, "zero": false}, "axis": {"values": [0,10,20,30,40,50], "format": "d", "title": "Шаг моделирования, лет"}},
   "y": {"field": "v", "type": "quantitative", "stack": "zero", "scale": {"domain": [-0.025, 0.845], "nice": false, "zero": false}, "axis": {"values": [0,0.2,0.4,0.6,0.8], "format": ".1f", "title": "Углерод, Тг"}},
   "color": {"field": "label", "type": "nominal", "scale": {"domain": ["Древостой","Подрост и подлесок","Живой напочвенный покров","Сухостой и валёж","Органогенный горизонт почвы","Органо-минеральный горизонт"], "range": ["#228B22","#9ACD32","#98FB98","#FFFF00","#FFA500","#A52A2A"]}, "legend": {"orient": "none", "legendX": 341, "legendY": 571, "title": null, "symbolType": "M-1.7,-1H1.7V1H-1.7Z", "symbolSize": 196, "symbolStrokeWidth": 0, "symbolOpacity": 1, "labelFontSize": 17, "labelOffset": 8, "rowPadding": 5.5, "labelColor": "black", "labelLimit": 400}},
   "order": {"field": "idx", "type": "quantitative"}
  }}
]
}
